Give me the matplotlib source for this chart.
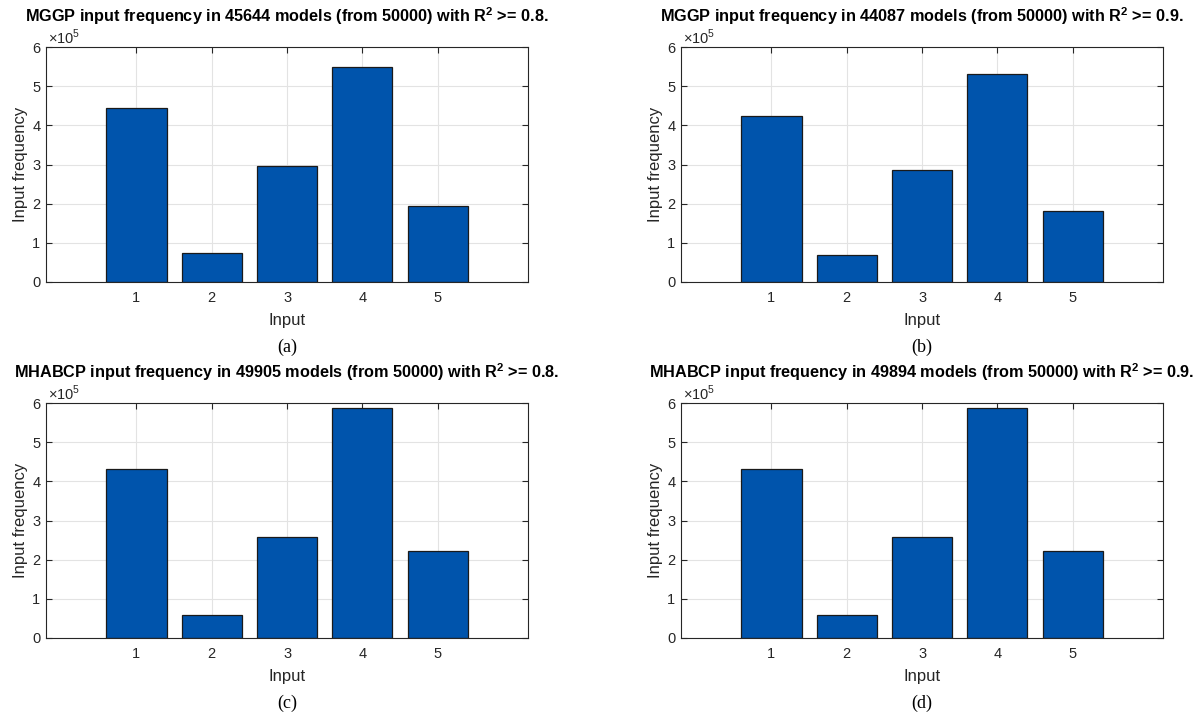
import numpy as np
import matplotlib
matplotlib.use("Agg")
import matplotlib.pyplot as plt
from matplotlib.ticker import FuncFormatter

plt.rcParams['font.family'] = ['Liberation Sans', 'DejaVu Sans']
plt.rcParams['mathtext.fontset'] = 'custom'
plt.rcParams['mathtext.rm'] = 'Liberation Sans'
plt.rcParams['mathtext.bf'] = 'Liberation Sans:bold'

inputs = [1, 2, 3, 4, 5]

# input frequency counts, units of 1e5
mggp_r08 = [4.45, 0.73, 2.96, 5.50, 1.93]
mggp_r09 = [4.24, 0.69, 2.87, 5.32, 1.82]
mhabcp_r08 = [4.32, 0.575, 2.57, 5.87, 2.23]
mhabcp_r09 = [4.32, 0.575, 2.57, 5.87, 2.22]

titles = [
    r'MGGP input frequency in 45644 models (from 50000) with R$^{\mathbf{2}}$ >= 0.8.',
    r'MGGP input frequency in 44087 models (from 50000) with R$^{\mathbf{2}}$ >= 0.9.',
    r'MHABCP input frequency in 49905 models (from 50000) with R$^{\mathbf{2}}$ >= 0.8.',
    r'MHABCP input frequency in 49894 models (from 50000) with R$^{\mathbf{2}}$ >= 0.9.',
]
captions = ['(a)', '(b)', '(c)', '(d)']
series = [mggp_r08, mggp_r09, mhabcp_r08, mhabcp_r09]

bar_color = '#0054ac'
ink = '#262626'
scale = 1e5

fig = plt.figure(figsize=(12.02, 7.19), dpi=100)
w, h = 0.401, 0.3265
corners = [(0.0383, 0.6078), (0.5666, 0.6078), (0.0383, 0.1127), (0.5666, 0.1127)]

for (x0, y0), vals, title, cap in zip(corners, series, titles, captions):
    ax = fig.add_axes([x0, y0, w, h])
    ax.bar(inputs, np.array(vals) * scale, width=0.8, color=bar_color,
           edgecolor='#1a1a1a', linewidth=0.9, zorder=2)
    ax.set_xlim(-0.2, 6.2)
    ax.set_ylim(0, 6 * scale)
    ax.set_xticks(inputs)
    ax.set_yticks(np.arange(0, 7) * scale)
    ax.yaxis.set_major_formatter(FuncFormatter(lambda v, _: f'{v / scale:g}'))
    # exponent label in the MATLAB spot, top-left corner of the box
    ax.text(0.004, 1.0, r'$\times10^{5}$', transform=ax.transAxes, ha='left',
            va='bottom', fontsize=10.5, color=ink)
    ax.set_axisbelow(True)
    ax.grid(True, color='#e3e3e3', linewidth=0.8)
    for sp in ax.spines.values():
        sp.set_color(ink)
        sp.set_linewidth(0.8)
    ax.tick_params(direction='in', top=True, right=True, length=4,
                   width=0.8, color=ink, labelcolor=ink, labelsize=10.5)
    ax.tick_params(axis='x', pad=6.5)
    ax.tick_params(axis='y', pad=4)
    ax.set_xlabel('Input', fontsize=12, color=ink, labelpad=6)
    ax.set_ylabel('Input frequency', fontsize=12, color=ink, labelpad=3)
    ax.set_title(title, fontsize=11.7, fontweight='bold', color='black', y=1.0, pad=18)
    ax.text(0.5, -0.277, cap, transform=ax.transAxes, ha='center', va='center',
            fontsize=13, family='Liberation Serif', color='black')

fig.savefig('out.png', dpi=100)
